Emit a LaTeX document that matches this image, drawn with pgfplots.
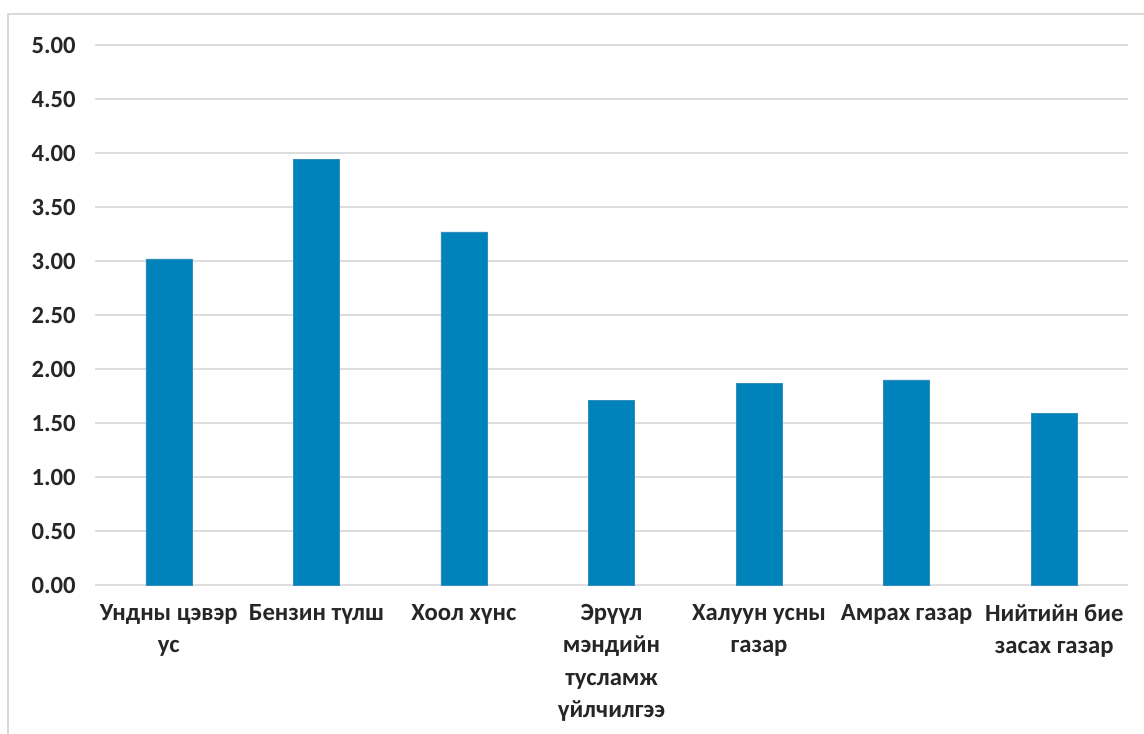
\documentclass[border=0pt]{standalone}
\usepackage{fontspec}
\setmainfont{Carlito}
\usepackage{pgfplots}
\pgfplotsset{compat=1.18}
\definecolor{barblue}{RGB}{0,130,186}
\definecolor{gridgray}{RGB}{222,222,222}
\definecolor{framegray}{RGB}{217,217,217}
\definecolor{txt}{RGB}{38,38,38}
\begin{document}
\begin{tikzpicture}[x=0.75pt,y=0.75pt]
\useasboundingbox (0,0) rectangle (1144,733);
\draw[framegray, line width=1.5pt] (8,719) rectangle (1170,-30);
\begin{axis}[
  at={(71.25pt,111pt)}, anchor=south west,
  scale only axis, width=774.75pt, height=405pt,
  xmin=-0.5, xmax=6.5, ymin=0, ymax=5,
  ytick={0,0.5,1,1.5,2,2.5,3,3.5,4,4.5,5},
  xtick={0,1,2,3,4,5,6},
  xticklabels={{Ундны цэвэр\\ус},{Бензин түлш},{Хоол хүнс},{Эрүүл\\мэндийн\\тусламж\\үйлчилгээ},{Халуун усны\\газар},{Амрах газар},{Нийтийн бие\\засах газар}},
  ymajorgrids, grid style={gridgray, line width=0.9pt},
  axis line style={draw=none}, major tick length=0pt,
  tick label style={font=\fontsize{18.5}{24.3}\selectfont\bfseries, text=txt},
  xticklabel style={align=center, anchor=north, yshift=-11pt},
  yticklabel style={anchor=east, xshift=-11pt},
  /pgf/number format/.cd, fixed, fixed zerofill, precision=2, assume math mode=true,
]
\addplot[ybar, bar width=34.5pt, fill=barblue, draw=barblue!80!pink, line width=0.4pt] coordinates {
  (0,3.02) (1,3.94) (2,3.27) (3,1.71) (4,1.87) (5,1.90) (6,1.59)
};
\end{axis}
\end{tikzpicture}
\end{document}
